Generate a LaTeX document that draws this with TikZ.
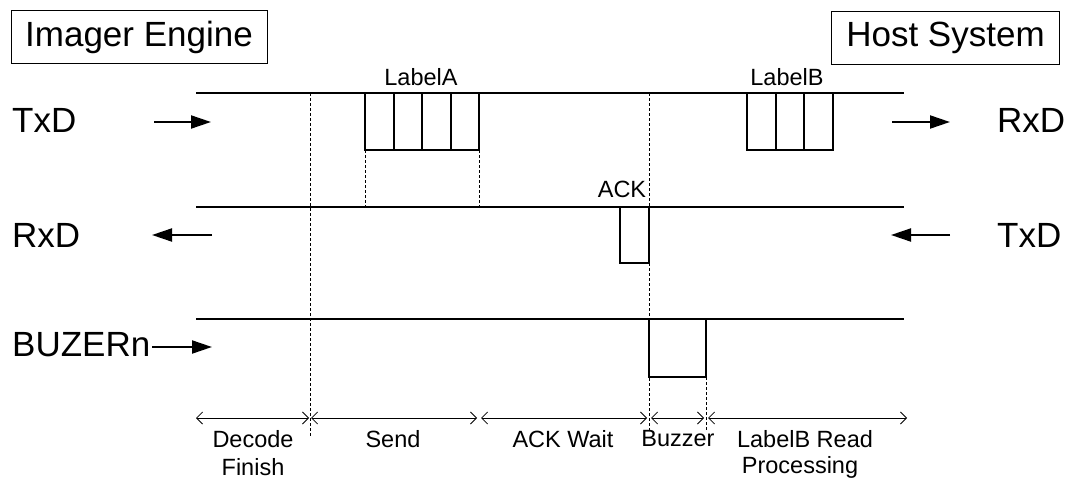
\documentclass[tikz,border=0pt]{standalone}
\usepackage{fontspec}
\setmainfont{Liberation Sans}
\usetikzlibrary{arrows.meta}
\begin{document}
\begin{tikzpicture}[x=1pt,y=-1pt,
  sig/.style={line width=2pt},
  pulse/.style={line width=2pt, line join=miter},
  guide/.style={line width=0.8pt, dash pattern=on 3pt off 2pt},
  big/.style={font=\fontsize{35}{40}\selectfont, inner sep=0pt},
  small/.style={font=\fontsize{23.5}{28}\selectfont, inner sep=0pt},
  titlebox/.style={draw, line width=1pt, big, minimum height=53pt},
  dir/.style={line width=2pt, -{Triangle[length=20pt,width=13pt]}},
  dim/.style={line width=0.8pt, {Straight Barb[length=6pt,width=12pt]}-{Straight Barb[length=6pt,width=12pt]}},
]
\useasboundingbox (0,0) rectangle (1068,484);

% title boxes
\node[titlebox, minimum width=256pt] (imager) at (139,37) {Imager Engine};
\node[titlebox, minimum width=228pt] (host) at (945.5,38) {Host System};

% signal labels left
\node[big, anchor=west] (ltxd) at (12,120) {TxD};
\node[big, anchor=west] (lrxd) at (12,235) {RxD};
\node[big, anchor=west] (lbuz) at (12,345) {BUZERn};
% signal labels right
\node[big, anchor=west] (rrxd) at (997,120) {RxD};
\node[big, anchor=west] (rtxd) at (997,235) {TxD};

% direction arrows
\coordinate (a1s) at (154,122); \coordinate (a1e) at (211,122);
\coordinate (a2s) at (212,235); \coordinate (a2e) at (152,235);
\coordinate (a3s) at (152,347); \coordinate (a3e) at (212,347);
\coordinate (a4s) at (892,122); \coordinate (a4e) at (950,122);
\coordinate (a5s) at (950,235); \coordinate (a5e) at (891,235);
\draw[dir] (a1s) -- (a1e);
\draw[dir] (a2s) -- (a2e);
\draw[dir] (a3s) -- (a3e);
\draw[dir] (a4s) -- (a4e);
\draw[dir] (a5s) -- (a5e);

% signal lines
\coordinate (t0) at (196,93);  \coordinate (t1) at (904,93);
\coordinate (r0) at (196,207); \coordinate (r1) at (904,207);
\coordinate (b0) at (196,319); \coordinate (b1) at (904,319);
\draw[sig] (t0) -- (t1);
\draw[sig] (r0) -- (r1);
\draw[sig] (b0) -- (b1);

% LabelA pulse
\draw[pulse] (365,93) rectangle (479,150);
\foreach \x in {393.5,422,450.5} \draw[pulse] (\x,93) -- (\x,150);
\node[small] (labela) at (421,77) {LabelA};

% LabelB pulse
\draw[pulse] (747,93) rectangle (833,150);
\foreach \x in {775.7,804.3} \draw[pulse] (\x,93) -- (\x,150);
\node[small] (labelb) at (787,77) {LabelB};

% ACK pulse
\draw[pulse] (620,207) rectangle (649,263);
\node[small] (ack) at (622,189) {ACK};

% Buzzer pulse
\draw[pulse] (649,319) rectangle (706,377);

% guide lines
\draw[guide] (310,93) -- (310,436);
\draw[guide] (365,150) -- (365,207);
\draw[guide] (479,150) -- (479,207);
\draw[guide] (649,93) -- (649,430);
\draw[guide] (706,377) -- (706,430);

% time spans
\coordinate (d0) at (196,418);
\coordinate (d1) at (309,418);
\coordinate (d2) at (311,418);
\coordinate (d3) at (477,418);
\coordinate (d4) at (481,418);
\coordinate (d5) at (647,418);
\coordinate (d6) at (651,418);
\coordinate (d7) at (704,418);
\coordinate (d8) at (708,418);
\coordinate (d9) at (907,418);
\draw[dim] (d0) -- (d1);
\draw[dim] (d2) -- (d3);
\draw[dim] (d4) -- (d5);
\draw[dim] (d6) -- (d7);
\draw[dim] (d8) -- (d9);

\node[small] (s1) at (253,439) {Decode};
\node[small] (s1b) at (253,467) {Finish};
\node[small] (s2) at (393,439) {Send};
\node[small] (s3) at (563,439) {ACK Wait};
\node[small] (s4) at (678,439) {Buzzer};
\node[small] (s5) at (805,439) {LabelB Read};
\node[small] (s5b) at (800,467) {Processing};
\end{tikzpicture}
\end{document}
